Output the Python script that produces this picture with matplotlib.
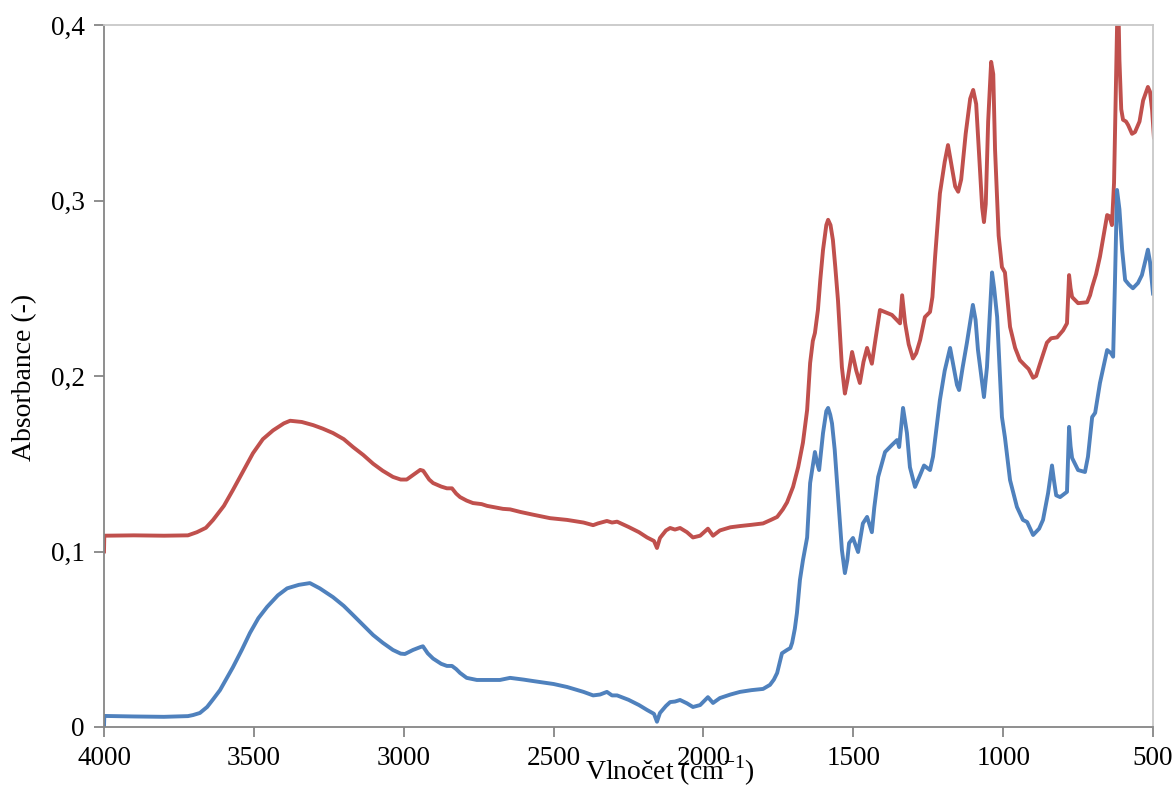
import matplotlib
matplotlib.use("Agg")
from matplotlib import pyplot as plt
from matplotlib.ticker import FuncFormatter

plt.rcParams['font.family'] = ['Liberation Serif', 'DejaVu Serif']
plt.rcParams['mathtext.fontset'] = 'custom'
plt.rcParams['mathtext.rm'] = 'Liberation Serif'

# red spectrum (upper)
red_x = [4000, 3999, 3900, 3800, 3720, 3690, 3660, 3636, 3600, 3570, 3535, 3503, 3470, 3436,
         3400, 3379, 3340, 3302, 3270, 3236, 3200, 3169, 3135, 3102, 3070, 3036, 3010, 2990,
         2969, 2945, 2935, 2915, 2902, 2875, 2856, 2839, 2825, 2812, 2790, 2769, 2740, 2722,
         2690, 2669, 2645, 2610, 2569, 2512, 2455, 2400, 2368, 2352, 2322, 2305, 2288, 2250,
         2215, 2188, 2165, 2155, 2145, 2125, 2111, 2095, 2078, 2055, 2035, 2011, 1985, 1968,
         1945, 1910, 1878, 1840, 1801, 1775, 1754, 1735, 1721, 1701, 1684, 1668, 1654, 1644,
         1635, 1628, 1618, 1610, 1601, 1590, 1584, 1576, 1568, 1560, 1551, 1538, 1528, 1520,
         1504, 1490, 1478, 1466, 1454, 1438, 1425, 1411, 1388, 1371, 1350, 1344, 1337, 1327,
         1315, 1301, 1290, 1277, 1261, 1244, 1236, 1227, 1211, 1195, 1184, 1170, 1160, 1150,
         1140, 1125, 1110, 1100, 1090, 1080, 1070, 1064, 1058, 1050, 1040, 1033, 1027, 1015,
         1004, 994, 977, 960, 944, 927, 915, 900, 890, 877, 854, 840, 820, 800, 787, 780, 775,
         770, 750, 720, 710, 703, 690, 677, 665, 653, 645, 637, 630, 622, 617, 612, 606, 600,
         590, 583, 570, 560, 545, 533, 517, 510, 503, 497]
red_y = [0.100, 0.109, 0.1092, 0.109, 0.1092, 0.111, 0.1135, 0.118, 0.126, 0.135, 0.146, 0.156,
         0.164, 0.169, 0.173, 0.1745, 0.1738, 0.172, 0.170, 0.1675, 0.164, 0.1595, 0.155, 0.150,
         0.146, 0.1425, 0.141, 0.141, 0.1436, 0.1465, 0.146, 0.141, 0.139, 0.137, 0.136, 0.136,
         0.133, 0.131, 0.129, 0.1276, 0.127, 0.126, 0.125, 0.1243, 0.124, 0.1225, 0.121, 0.119,
         0.118, 0.1165, 0.115, 0.116, 0.1174, 0.1165, 0.117, 0.114, 0.111, 0.108, 0.106, 0.102,
         0.1077, 0.112, 0.1134, 0.1125, 0.1134, 0.111, 0.108, 0.109, 0.113, 0.109, 0.112, 0.1138,
         0.1145, 0.1152, 0.116, 0.118, 0.1197, 0.124, 0.128, 0.1368, 0.148, 0.162, 0.1806, 0.2074,
         0.220, 0.2245, 0.2376, 0.255, 0.2718, 0.286, 0.289, 0.286, 0.2775, 0.262, 0.243, 0.205,
         0.190, 0.197, 0.2137, 0.203, 0.196, 0.208, 0.216, 0.207, 0.222, 0.2376, 0.236, 0.2348,
         0.231, 0.230, 0.246, 0.230, 0.218, 0.210, 0.213, 0.2205, 0.2336, 0.2365, 0.245, 0.268,
         0.304, 0.322, 0.3316, 0.318, 0.308, 0.305, 0.312, 0.338, 0.358, 0.363, 0.355, 0.325,
         0.296, 0.2877, 0.298, 0.345, 0.379, 0.372, 0.329, 0.280, 0.262, 0.259, 0.228, 0.216,
         0.209, 0.206, 0.204, 0.199, 0.200, 0.207, 0.219, 0.2215, 0.222, 0.226, 0.230, 0.2575,
         0.250, 0.245, 0.2415, 0.242, 0.246, 0.2507, 0.258, 0.268, 0.280, 0.2917, 0.291, 0.286,
         0.310, 0.380, 0.425, 0.380, 0.352, 0.346, 0.345, 0.343, 0.338, 0.339, 0.345, 0.357,
         0.3647, 0.362, 0.3516, 0.336]

# blue spectrum (lower)
blue_x = [4000, 3999, 3900, 3800, 3720, 3703, 3680, 3656, 3635, 3613, 3590, 3570, 3540, 3513,
          3485, 3456, 3420, 3389, 3350, 3313, 3280, 3236, 3200, 3169, 3135, 3102, 3070, 3036,
          3010, 2996, 2969, 2945, 2936, 2920, 2902, 2875, 2856, 2839, 2825, 2812, 2790, 2756,
          2679, 2645, 2600, 2569, 2500, 2455, 2400, 2368, 2345, 2322, 2305, 2288, 2250, 2215,
          2188, 2165, 2155, 2145, 2125, 2111, 2095, 2078, 2055, 2035, 2011, 1985, 1968, 1945,
          1910, 1878, 1840, 1801, 1778, 1765, 1754, 1745, 1738, 1721, 1710, 1704, 1695, 1688,
          1678, 1668, 1654, 1644, 1628, 1620, 1614, 1601, 1590, 1584, 1577, 1571, 1562, 1554,
          1538, 1528, 1520, 1514, 1501, 1484, 1468, 1454, 1438, 1430, 1417, 1394, 1371, 1354,
          1347, 1334, 1321, 1311, 1294, 1277, 1264, 1244, 1234, 1211, 1195, 1177, 1165, 1154,
          1147, 1135, 1121, 1101, 1092, 1084, 1064, 1054, 1037, 1030, 1020, 1004, 994, 977, 954,
          934, 920, 900, 880, 867, 850, 837, 830, 823, 810, 787, 780, 775, 770, 750, 727, 717,
          703, 693, 677, 653, 640, 633, 627, 620, 612, 603, 593, 580, 567, 550, 537, 525, 517,
          510, 500]
blue_y = [0.0, 0.0063, 0.006, 0.0058, 0.0062, 0.0068, 0.008, 0.0114, 0.016, 0.021, 0.028, 0.034,
          0.044, 0.0536, 0.062, 0.0684, 0.075, 0.079, 0.081, 0.082, 0.079, 0.074, 0.069, 0.0638,
          0.058, 0.0524, 0.048, 0.0439, 0.0418, 0.0416, 0.0439, 0.0455, 0.046, 0.042, 0.039,
          0.036, 0.0348, 0.0348, 0.033, 0.0308, 0.028, 0.0268, 0.0268, 0.028, 0.027, 0.0262,
          0.0245, 0.0228, 0.020, 0.018, 0.0185, 0.020, 0.018, 0.018, 0.0155, 0.0125, 0.0097,
          0.0075, 0.003, 0.008, 0.012, 0.0142, 0.0145, 0.0154, 0.0135, 0.0114, 0.0125, 0.017,
          0.0137, 0.0165, 0.0185, 0.020, 0.021, 0.0217, 0.024, 0.027, 0.0308, 0.037, 0.042,
          0.0439, 0.045, 0.048, 0.056, 0.065, 0.0838, 0.095, 0.108, 0.139, 0.1567, 0.150, 0.1464,
          0.1675, 0.180, 0.1818, 0.178, 0.173, 0.158, 0.139, 0.1009, 0.0877, 0.095, 0.1048,
          0.1077, 0.0997, 0.116, 0.1197, 0.111, 0.125, 0.1425, 0.1567, 0.1607, 0.1635, 0.1595,
          0.1818, 0.1675, 0.148, 0.1368, 0.1436, 0.149, 0.1464, 0.154, 0.1863, 0.203, 0.216,
          0.205, 0.1949, 0.192, 0.205, 0.2188, 0.2405, 0.232, 0.2148, 0.188, 0.205, 0.259, 0.250,
          0.2336, 0.1766, 0.165, 0.1407, 0.1254, 0.118, 0.1168, 0.1094, 0.113, 0.118, 0.1333,
          0.149, 0.140, 0.132, 0.131, 0.134, 0.171, 0.160, 0.1533, 0.1464, 0.1453, 0.154, 0.1766,
          0.179, 0.196, 0.2148, 0.213, 0.211, 0.253, 0.306, 0.295, 0.272, 0.2547, 0.252, 0.250,
          0.253, 0.2575, 0.266, 0.272, 0.265, 0.247]

x_ticks = [4000, 3500, 3000, 2500, 2000, 1500, 1000, 500]
y_ticks = [0, 0.1, 0.2, 0.3, 0.4]


def comma(v, pos):
    if abs(v) < 1e-9:
        return "0"
    return ("%.1f" % v).replace(".", ",")


fig = plt.figure(figsize=(11.74, 7.87), dpi=100)
ax = fig.add_axes([104 / 1174, 1 - 727 / 787, (1153 - 104) / 1174, (727 - 25) / 787])

ax.plot(red_x, red_y, color='#C0504D', lw=2.8, solid_joinstyle='round')
ax.plot(blue_x, blue_y, color='#4F81BD', lw=2.8, solid_joinstyle='round')

ax.set_xlim(4000, 500)
ax.set_ylim(0, 0.4)
ax.set_xticks(x_ticks)
ax.set_yticks(y_ticks)
ax.yaxis.set_major_formatter(FuncFormatter(comma))

for s in ['left', 'bottom']:
    ax.spines[s].set_color('#868686')
    ax.spines[s].set_linewidth(1.3)
for s in ['top', 'right']:
    ax.spines[s].set_color('#C8C8C8')
    ax.spines[s].set_linewidth(1.3)

ax.tick_params(axis='both', direction='out', length=7, width=1.3, color='#868686',
               labelsize=19.5, pad=7)

# axis titles sit where the reference puts them (x title overlaps the tick labels)
fig.text(670 / 1174, 1 - 771 / 787, r'Vlnočet (cm$^{\mathrm{-1}}$)', ha='center', va='center',
         fontsize=20)
fig.text(25 / 1174, 1 - 377 / 787, 'Absorbance (-)', ha='center', va='center', rotation=90,
         fontsize=20)

fig.savefig('out.png', dpi=100)
